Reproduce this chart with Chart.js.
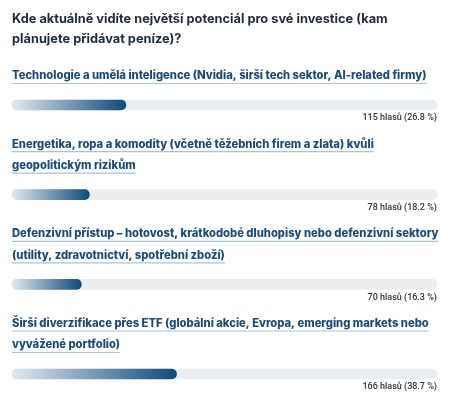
<!DOCTYPE html>
<html>
<head>
<meta charset="utf-8">
<script src="https://cdn.jsdelivr.net/npm/chart.js@4"></script>
<style>
  html, body { margin: 0; background: #fff; }
  #wrap { width: 452px; height: 400px; }
</style>
</head>
<body>
<div id="wrap"><canvas id="poll" width="452" height="400"></canvas></div>
<script>
const titleLines = ['Kde aktuálně vidíte největší potenciál pro své investice (kam', 'plánujete přidávat peníze)?'];
const optionLabels = [
  ['Technologie a umělá inteligence (Nvidia, širší tech sektor, AI-related firmy)'],
  ['Energetika, ropa a komodity (včetně těžebních firem a zlata) kvůli', 'geopolitickým rizikům'],
  ['Defenzivní přístup – hotovost, krátkodobé dluhopisy nebo defenzivní sektory', '(utility, zdravotnictví, spotřební zboží)'],
  ['Širší diverzifikace přes ETF (globální akcie, Evropa, emerging markets nebo', 'vyvážené portfolio)']
];
const votes = [115, 78, 70, 166];
const percents = [26.8, 18.2, 16.3, 38.7];

const TITLE_FONT = '"Inter", "Open Sans", sans-serif';
const LABEL_FONT = '"Inter", "Open Sans", sans-serif';
const VOTE_FONT = 'Roboto, sans-serif';

// pick a font size so a given line gets the wanted width
function fitSize(ctx, weight, family, text, width) {
  ctx.font = weight + ' 20px ' + family;
  return 20 * width / ctx.measureText(text).width;
}

const textPlugin = {
  id: 'pollText',
  afterDatasetsDraw(chart) {
    const ctx = chart.ctx;
    const y = chart.scales.y;
    const left = chart.chartArea.left;
    const right = chart.chartArea.right;
    ctx.save();
    ctx.textBaseline = 'middle';

    // title
    const ts = fitSize(ctx, 700, TITLE_FONT, titleLines[0], 376);
    ctx.font = '700 ' + ts + 'px ' + TITLE_FONT;
    ctx.fillStyle = '#1f2b3a';
    ctx.textAlign = 'left';
    titleLines.forEach((t, i) => ctx.fillText(t, left, 19 + i * 20));

    // option labels + vote counts
    const ls = fitSize(ctx, 800, LABEL_FONT, optionLabels[0][0], 415);
    optionLabels.forEach((lines, i) => {
      const cy = y.getPixelForValue(i);
      const n = lines.length;
      lines.forEach((t, j) => {
        const ly = cy - 29 - (n - 1 - j) * 21.5;
        ctx.font = '800 ' + ls + 'px ' + LABEL_FONT;
        ctx.fillStyle = '#1b4c77';
        ctx.textAlign = 'left';
        ctx.fillText(t, left, ly);
        const w = ctx.measureText(t).width;
        ctx.strokeStyle = '#a9c3da';
        ctx.lineWidth = 1.2;
        ctx.beginPath();
        ctx.moveTo(left, ly + 7.5);
        ctx.lineTo(left + w, ly + 7.5);
        ctx.stroke();
      });
      ctx.font = '500 9px ' + VOTE_FONT;
      ctx.fillStyle = '#333';
      ctx.textAlign = 'right';
      ctx.fillText(votes[i] + ' hlasů (' + percents[i].toFixed(1) + ' %)', right, cy + 13);
    });
    ctx.restore();
  }
};

function barGradient(c) {
  const chart = c.chart;
  if (!chart.chartArea || c.raw === undefined) return '#124a79';
  const x = chart.scales.x;
  const end = x.getPixelForValue(c.raw);
  const g = chart.ctx.createLinearGradient(x.left, 0, end, 0);
  g.addColorStop(0, '#e2e9ef');
  g.addColorStop(1, '#0f4a7b');
  return g;
}

new Chart(document.getElementById('poll'), {
  type: 'bar',
  data: {
    labels: optionLabels.map((l, i) => String(i)),
    datasets: [
      {
        data: percents,
        backgroundColor: barGradient,
        borderRadius: 5,
        borderSkipped: false,
        barThickness: 10,
        grouped: false,
        clip: false
      },
      {
        data: percents.map(() => 100),
        backgroundColor: '#e9eef3',
        borderRadius: 5,
        borderSkipped: false,
        barThickness: 10,
        grouped: false,
        clip: false
      }
    ]
  },
  options: {
    indexAxis: 'y',
    responsive: false,
    animation: false,
    layout: { padding: { left: 12, right: 15, top: 105, bottom: 26 } },
    scales: {
      x: { display: false, min: 0, max: 100 },
      y: { display: false, offset: false }
    },
    plugins: { legend: { display: false }, tooltip: { enabled: false } }
  },
  plugins: [textPlugin]
});
</script>
</body>
</html>
